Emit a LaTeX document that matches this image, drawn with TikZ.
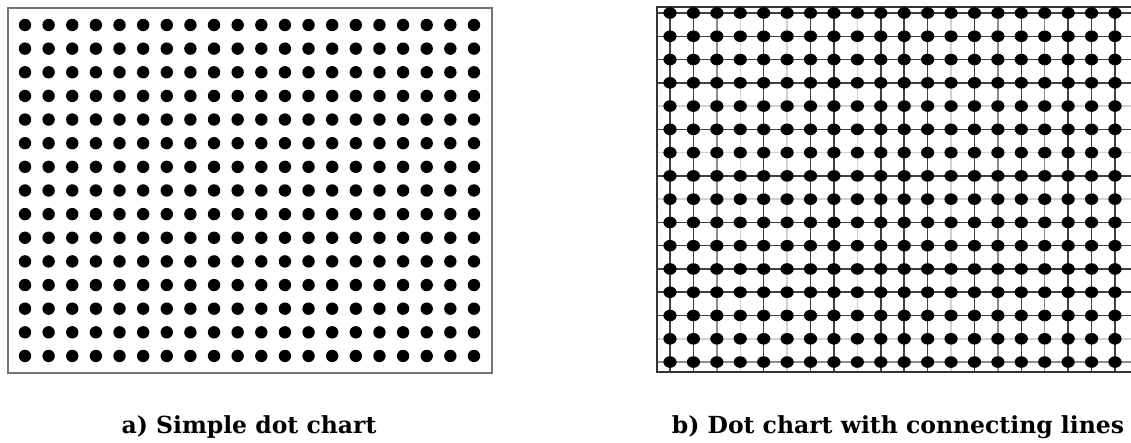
\documentclass[tikz,border=0pt]{standalone}
\usepackage{fontspec}
\setmainfont{DejaVu Serif}
\begin{document}
\begin{tikzpicture}[x=1pt,y=-1pt,
  dot/.style={fill=black},
  captext/.style={font=\fontsize{23.5}{28}\selectfont\bfseries, anchor=base, inner sep=0pt},
  frameA/.style={draw=black!55, line width=1.6pt},
  frameB/.style={draw=black!80, line width=1.8pt},
  gd/.style={draw=black!75, line width=1.5pt},
  gm/.style={draw=black!45, line width=1.5pt},
  gl/.style={draw=black!18, line width=1.5pt}]
\useasboundingbox (0,0) rectangle (1131,443);
% ---- chart a ----
\draw[frameA] (8,8) rectangle (492,373);
\foreach \i in {0,...,19}{
  \foreach \j in {0,...,14}{
    \fill[dot] ({25+23.63*\i},{25+23.64*\j}) circle (6.2);
  }
}
% ---- chart b ----
% vertical lines
\foreach \i/\s in {0/gd,1/gd,2/gm,3/gl,4/gd,5/gl,6/gd,7/gd,8/gl,9/gd,10/gd,11/gd,12/gl,13/gd,14/gm,15/gd,16/gm,17/gd,18/gd,19/gd}{
  \draw[\s] ({670+23.42*\i},7) -- ({670+23.42*\i},372);
}
% horizontal lines
\foreach \j/\s in {0/gd,1/gd,2/gd,3/gd,4/gl,5/gd,6/gl,7/gd,8/gl,9/gd,10/gd,11/gd,12/gd,13/gd,14/gl,15/gm}{
  \draw[\s] (657,{13+23.27*\j}) -- (1131,{13+23.27*\j});
}
\draw[frameB] (657,7) rectangle (1140,372);
\foreach \i in {0,...,19}{
  \foreach \j in {0,...,15}{
    \fill[dot] ({670+23.42*\i},{13+23.27*\j}) ellipse (6.6 and 5.8);
  }
}
% ---- captions ----
\node[captext] (capa) at (249,433) {a) Simple dot chart};
\node[captext] (capb) at (898,433) {b) Dot chart with connecting lines};
\end{tikzpicture}
\end{document}
